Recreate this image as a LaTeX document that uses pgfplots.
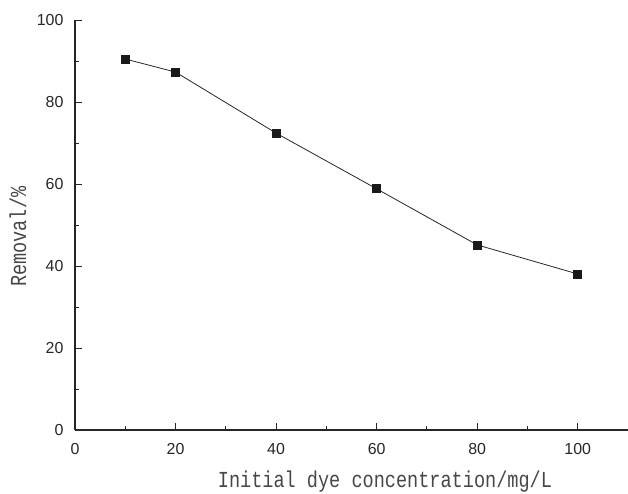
\documentclass[border=0pt]{standalone}
\usepackage{fontspec}
\setmainfont{Liberation Sans}
\newfontfamily\labelfont[FakeStretch=0.81]{Liberation Mono}
\usepackage{pgfplots}
\pgfplotsset{compat=1.18}
\begin{document}
\begin{tikzpicture}
\begin{axis}[
  scale only axis,
  width=553bp, height=409.5bp,
  xmin=0, xmax=110, ymin=0, ymax=100,
  axis lines=left,
  axis line style={line width=1.1bp, black!85, -},
  xtick={0,20,40,60,80,100},
  ytick={0,20,40,60,80,100},
  minor xtick={10,30,50,70,90},
  minor ytick={10,30,50,70,90},
  tick align=inside,
  major tick length=7bp,
  minor tick length=4bp,
  tick style={line width=1.0bp, black!85},
  /pgf/number format/assume math mode=true,
  ticklabel style={font=\fontsize{16}{18}\selectfont, text=black!85},
  xticklabel style={yshift=-10bp},
  yticklabel style={xshift=-8bp},
  xlabel={Initial dye concentration/mg/L},
  ylabel={Removal/\%},
  xlabel style={font=\labelfont\fontsize{23}{26}\selectfont, text=black!72, at={(axis description cs:0.5605,-0.127)}, anchor=center},
  ylabel style={font=\labelfont\fontsize{23}{26}\selectfont, text=black!72, at={(axis description cs:-0.103,0.472)}, anchor=center},
  clip=false,
]
\addplot[color=black!85, line width=0.8bp, mark=square*, mark size=4bp, mark options={fill=black!90, draw=black!90}]
coordinates {(10,90.6) (20,87.4) (40,72.5) (60,58.9) (80,45.2) (100,38.1)};
\end{axis}
\pgfresetboundingbox
\path[use as bounding box] (-75bp,-64bp) rectangle (553bp,430bp);
\end{tikzpicture}
\end{document}
